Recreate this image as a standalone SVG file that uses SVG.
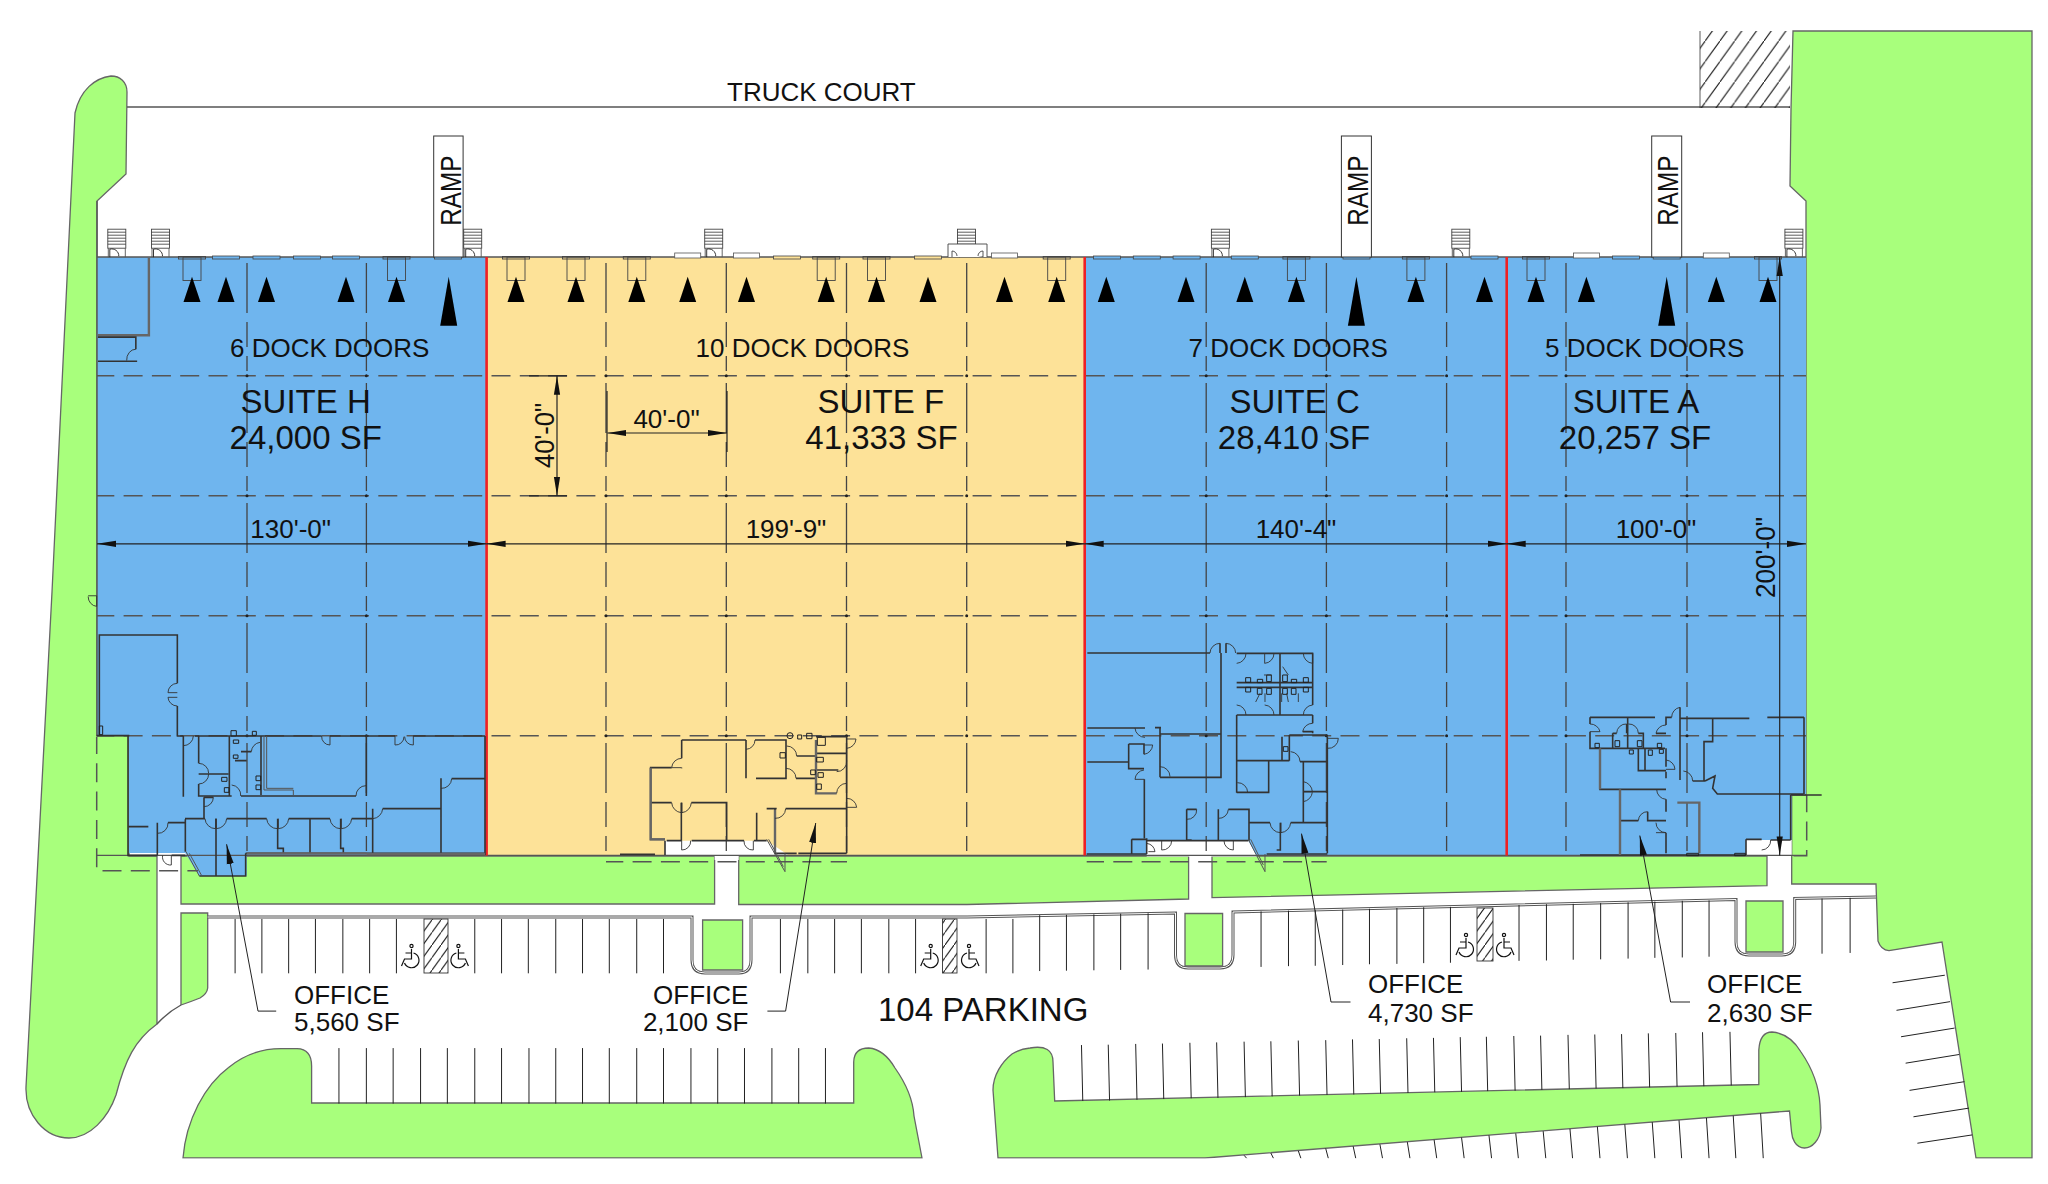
<svg xmlns="http://www.w3.org/2000/svg" xmlns:xlink="http://www.w3.org/1999/xlink" width="2048" height="1184" viewBox="0 0 2048 1184">
<style>
text{font-family:"Liberation Sans",Arial,sans-serif;fill:#111}
.t26{font-size:26px}.t33{font-size:33px}.m{text-anchor:middle}.e{text-anchor:end}
.g{fill:#a8ff7c;stroke:#666;stroke-width:1.3}
.b{fill:#6fb5ee}.y{fill:#fde298}
.gh{stroke:#555;stroke-width:1.5;stroke-dasharray:19 9.3;stroke-dashoffset:1.7;fill:none}
.gv{stroke:#444;stroke-width:1.3;stroke-dasharray:50 9 25 9 15 12;stroke-dashoffset:114;fill:none}
.gd{stroke:#222;stroke-width:3;stroke-linecap:round;stroke-dasharray:0 120;fill:none}
.sep{stroke:#ee2024;stroke-width:2.6;fill:none}
.dim{stroke:#222;stroke-width:1.2;fill:none}
.dimh{marker-start:url(#tick);marker-end:url(#tick)}
.lead{stroke:#222;stroke-width:1;fill:none;marker-start:url(#lead)}
.st path{fill:none;stroke:#222;stroke-width:1;vector-effect:non-scaling-stroke}
.w path{fill:none;stroke:#333;stroke-width:1.6;vector-effect:non-scaling-stroke}
.w path.a{stroke-width:.9}
.w path.h{stroke:#666;stroke-width:2.4}
.w path.f{stroke:#555;stroke-width:1}
.w rect,.w circle{fill:none;stroke:#222;stroke-width:1;vector-effect:non-scaling-stroke}
.curb{fill:none;stroke:#555;stroke-width:3}
.curbi{fill:none;stroke:#fff;stroke-width:1}
.edge{fill:none;stroke:#555;stroke-width:1.4}
.lv{fill:none;stroke:#444;stroke-width:.9}
.bar{fill:#6fb5ee;stroke:#444;stroke-width:.8}
.bary{fill:#fde298;stroke:#444;stroke-width:.8}
</style>
<defs>
<marker id="tick" markerUnits="userSpaceOnUse" markerWidth="20" markerHeight="8" refX="19" refY="4" orient="auto-start-reverse"><path d="M19,4 L0,.9 V7.1Z" fill="#111"/></marker>
<marker id="lead" markerUnits="userSpaceOnUse" markerWidth="20" markerHeight="8" refX="20" refY="4" orient="auto-start-reverse"><path d="M20,4 L0,.5 V7.5Z" fill="#111"/></marker>
<pattern id="hatchT" patternUnits="userSpaceOnUse" width="14.7" height="20.5"><path d="M0,20.5 L14.7,0" stroke="#111" stroke-width="1"/></pattern>
<pattern id="hatchP" patternUnits="userSpaceOnUse" width="9" height="12.6"><path d="M0,12.6 L9,0" stroke="#111" stroke-width="1"/></pattern>
<path id="ar" d="M0,0 L8.5,25.3 H-8.5Z" fill="#000"/>
<path id="arL" d="M0,0 L8.5,49 H-8.5Z" fill="#000"/>
<g id="stair"><rect x="0" y="0" width="18" height="19" fill="#fff" stroke="#444" stroke-width=".9"/><path d="M0,3H18M0,6H18M0,9H18M0,12H18M0,15H18" stroke="#333" stroke-width=".8"/><path d="M.5,19 V28 M17.5,19 V28" stroke="#555" stroke-width=".9"/><path d="M2,28 V20 A7,7 0 0 1 11,27" fill="none" stroke="#222" stroke-width=".9"/></g>
<g id="lev"><rect x="-9" y="257" width="18" height="23.5" class="lv"/><rect x="-13.5" y="256.5" width="27" height="2.5" class="lv"/></g>
<rect id="fl" x="-13.5" y="256" width="27" height="3" class="bar"/>
<rect id="fy" x="-13.5" y="256" width="27" height="3" class="bary"/>
<rect id="rs" x="-13" y="253" width="26" height="5" fill="#fff" stroke="#555" stroke-width=".8"/>
<g id="hc" fill="none" stroke="#111" stroke-width="1.2"><circle cx="-2" cy="-10" r="1.6"/><path d="M-2,-7 V3 H5 L8,10 M-2,-3 H4 M-4,-3 A7.5,7.5 0 1 0 5,7"/></g>
</defs>

<g id="site">
<path class="g" d="M127,92 C127,82 120,76 111,76 C95,78 80,90 75,113 L52,592 L26,1087 C25,1115 45,1138 69,1138 C90,1138 108,1118 116,1095 C125,1060 135,1040 157,1024 V856 H129 V735.5 H97 V201 L126,174Z"/>
<path class="g" d="M1793,31 H2032 V1158 H1976 L1942,942 L1889,950.7 Q1881,950 1878,941 L1876,884 H1791.7 V795 H1806 V201 L1790,186 L1791,109Z"/>
<path class="g" d="M181,856 H714.6 V904 H181Z"/>
<path class="g" d="M738.7,856 H1188.6 V899 L967,904.5 H738.7Z"/>
<path class="g" d="M1212,856 H1767 V885.6 L1212,897.7Z"/>
<path class="g" d="M181,913 H207.7 V988 Q207,994 200,998 Q190,1002 181,1005Z"/>
<path class="edge" d="M181,1005 Q168,1012 157,1024"/>
<path class="g" d="M183,1158 C186,1120 205,1085 228.6,1067.5 C245,1054 262,1048.6 281,1048.6 H297 Q311.6,1049 311.6,1066 V1103 H853.7 V1062 Q854,1048 868.7,1048 C880,1049 888,1056 895,1068 C907,1085 913,1100 914,1116 L922,1158Z"/>
<path class="g" d="M998,1158 L993,1090 C993,1075 1002,1062 1012,1054 Q1020,1049 1030,1048 Q1053,1044 1053,1062 L1054.7,1101 L1758.8,1084.5 V1050 Q1760,1032 1772,1032 C1785,1033 1795,1042 1801,1052 C1812,1068 1819,1085 1820,1105 L1821,1128 C1820,1140 1812,1148 1804.5,1148 C1795,1148 1792,1138 1791.5,1131.6 L1789.5,1111 L1205,1158Z"/>
<path class="g" d="M702.6,920 H742.6 V970 H702.6Z"/>
<path class="g" d="M1185,913.5 H1222.6 V966 H1185Z"/>
<path class="g" d="M1746,901 H1783 V952 H1746Z"/>
<path class="curb" d="M207.7,917 H692 V960 Q692,973 705,973 H739 Q751,973 751,960 V917 H967 L1175.5,913 V955 Q1175.5,968 1188,968 H1220 Q1233,968 1233,955 V912 L1736,899.5 V942 Q1736,955 1749,955 H1782 Q1794.7,955 1794.7,942 V898.4 L1876,897"/>
<path class="curbi" d="M207.7,917 H692 V960 Q692,973 705,973 H739 Q751,973 751,960 V917 H967 L1175.5,913 V955 Q1175.5,968 1188,968 H1220 Q1233,968 1233,955 V912 L1736,899.5 V942 Q1736,955 1749,955 H1782 Q1794.7,955 1794.7,942 V898.4 L1876,897"/>
<path class="edge" d="M127,107 H1790" stroke-width="1.2"/>
<rect x="1700" y="31" width="90" height="77" fill="url(#hatchT)"/>
<path d="M1700,31 V108" stroke="#333" stroke-width=".8"/>
<rect x="424" y="919" width="24" height="54" fill="url(#hatchP)" stroke="#333" stroke-width=".9"/>
<rect x="942.5" y="919" width="14.5" height="54" fill="url(#hatchP)" stroke="#333" stroke-width=".9"/>
<rect x="1477" y="908" width="16" height="53" fill="url(#hatchP)" stroke="#333" stroke-width=".9"/>
<use xlink:href="#hc" href="#hc" transform="translate(409.5,956) scale(-1,1)"/>
<use xlink:href="#hc" href="#hc" transform="translate(460.4,956)"/>
<use xlink:href="#hc" href="#hc" transform="translate(928.7,956) scale(-1,1)"/>
<use xlink:href="#hc" href="#hc" transform="translate(971,956)"/>
<use xlink:href="#hc" href="#hc" transform="translate(1464,945) scale(-1,1)"/>
<use xlink:href="#hc" href="#hc" transform="translate(1506,945)"/>
<g class="st" transform="translate(0,592) scale(.65306,.37755)">
<path d="M360,866V1010M401,866V1010M442,866V1010M483,866V1010M525,866V1010M566,866V1010M607,866V1010M727,866V1010M768,866V1010M809,866V1010M851,866V1010M892,866V1010M933,866V1010M975,866V1010M1016,866V1010M1195,866V1010M1237,866V1010M1278,866V1010M1319,866V1010M1361,866V1010M1402,866V1010M1510,866V1010M1551,866V1010"/>
<path d="M519,1208V1355M561,1208V1355M602,1208V1355M644,1208V1355M685,1208V1355M727,1208V1355M768,1208V1355M810,1208V1355M851,1208V1355M892,1208V1355M933,1208V1355M975,1208V1355M1016,1208V1355M1058,1208V1355M1099,1208V1355M1140,1208V1355M1182,1208V1355M1223,1208V1355M1264,1208V1355"/>
</g>
<g class="st" transform="translate(1024,592) scale(.65306,.37755)">
<path d="M24,856V1004M65,855V1003M107,854V1002M148,852V1001M190,851V1000"/>
<path d="M363,846V993M405,844V991M446,843V990M488,841V988M529,839V986M571,837V985M612,835V983M653,834V982M758,829V977M800,827V976M841,826V974M883,824V973M925,822V971M966,820V969M1008,818V968M1049,817V966M1222,812V958M1265,810V956"/>
<path d="M88,1200L90,1348M129,1199L131,1347M171,1197L173,1345M212,1196L214,1343M254,1194L256,1341M295,1193L297,1340M337,1191L339,1338M378,1190L380,1336M420,1188L422,1334M462,1187L464,1332M503,1185L505,1331M544,1184L546,1329M586,1182L588,1327M627,1181L629,1325M668,1179L670,1324M708,1178L710,1322M750,1176L752,1321M791,1175L793,1319M833,1173L835,1317M874,1172L876,1315M915,1171L917,1314M956,1169L958,1312M998,1168L1000,1310M1039,1166L1041,1309M1081,1165L1083,1307"/>
<path d="M1128,1381L1132,1500M1086,1387L1090,1500M1045,1393L1049,1500M1003,1399L1007,1500M962,1404L966,1500M920,1410L924,1500M878,1416L882,1500M836,1422L840,1500M795,1428L799,1500M753,1434L757,1500M712,1439L716,1500M670,1445L674,1500M628,1451L632,1500M587,1457L591,1500M545,1463L549,1500M504,1468L508,1500M462,1474L466,1500M420,1480L424,1500M378,1486L382,1500M337,1492L341,1500"/>
<path d="M1330,1035L1410,1015M1336,1108L1418,1085M1343,1178L1425,1155M1350,1248L1432,1225M1356,1320L1440,1297M1362,1390L1447,1367M1368,1460L1452,1438"/>
</g>
<rect x="0" y="1158.5" width="2048" height="26" fill="#fff"/>
</g>

<g id="suite-h">
<path class="b" d="M97,257 H486.6 V855.4 H246.7 V876 H199.3 L185.3,853 H129 V735.5 H97Z"/>
</g>
<g id="suite-f">
<rect class="y" x="486.6" y="257" width="598.1" height="598.4"/>
<path d="M665,840.7 H766.7 L789,855.4 H738.7 V860 H714.6 V855.4 H665Z" fill="#fff"/>
</g>
<g id="suite-c">
<rect class="b" x="1084.7" y="257" width="422" height="598.4"/>
<path d="M1146.7,840.7 H1248.3 L1257,856.5 H1146.7Z" fill="#fff"/>
</g>
<g id="suite-a">
<path class="b" d="M1506.7,257 H1806 V794 H1791.7 V840 H1746 V855.4 H1506.7Z"/>
<rect x="1746" y="840" width="45.7" height="16" fill="#fff"/>
</g>

<g id="grid">
<path class="gh" d="M97,375.8 H1806 M97,495.8 H1806 M97,615.8 H1806 M97,735.8 H1806"/>
<path class="gv" d="M247,257 V855 M366.4,257 V855 M606,257 V861 M726.3,257 V855 M846.5,257 V861 M966.7,257 V855 M1206.2,257 V855 M1326.4,257 V861 M1446.6,257 V855 M1566,257 V855 M1687,257 V855"/>
<path class="gd" d="M247,375.8 V736 M366.4,375.8 V736 M606,375.8 V736 M726.3,375.8 V736 M846.5,375.8 V736 M966.7,375.8 V736 M1206.2,375.8 V736 M1326.4,375.8 V736 M1446.6,375.8 V736 M1566,375.8 V736 M1687,375.8 V736"/>
<path class="gh" d="M606,861.7 H847 M1086.7,861.7 H1326.7"/>
<path class="gh" d="M96.7,736.7 V870.7 H198 M1806.7,795 V855.7 H1791.7" stroke-dasharray="16 8"/>
<path class="edge" d="M97,257 H1806 M97,855.4 H1806 M97,201 V736" stroke-width="1.6"/>
<path class="sep" d="M486.6,257 V855.4 M1084.7,257 V855.4 M1506.7,257 V855.4"/>
</g>

<g id="dock-fittings">
<use xlink:href="#stair" href="#stair" x="107.8" y="229.2"/><use xlink:href="#stair" href="#stair" x="151.5" y="229.2"/><use xlink:href="#stair" href="#stair" x="463.7" y="229.2"/><use xlink:href="#stair" href="#stair" x="704.7" y="229.2"/><use xlink:href="#stair" href="#stair" x="957.5" y="229.2"/><use xlink:href="#stair" href="#stair" x="1211.4" y="229.2"/><use xlink:href="#stair" href="#stair" x="1451.8" y="229.2"/><use xlink:href="#stair" href="#stair" x="1784.9" y="229.2"/>
<path d="M948,257 V244 H987 V257 M952,257 V251 A5,5 0 0 1 957,256 M983,257 V251 A5,5 0 0 0 978,256" fill="#fff" stroke="#444" stroke-width=".9"/>
<use href="#lev" x="192"/><use href="#lev" x="396.5"/><use href="#lev" x="516"/><use href="#lev" x="576"/><use href="#lev" x="636.8"/><use href="#lev" x="826.2"/><use href="#lev" x="876.5"/><use href="#lev" x="1056.7"/><use href="#lev" x="1296.4"/><use href="#lev" x="1415.9"/><use href="#lev" x="1536"/><use href="#lev" x="1768"/>
<use href="#fl" x="226"/><use href="#fl" x="266.5"/><use href="#fl" x="307"/><use href="#fl" x="346"/><use href="#fl" x="448"/><use href="#fy" x="787"/><use href="#fy" x="928"/><use href="#fl" x="1107"/><use href="#fl" x="1146.8"/><use href="#fl" x="1186.6"/><use href="#fl" x="1244.8"/><use href="#fl" x="1356.5"/><use href="#fl" x="1484.5"/><use href="#fl" x="1626"/><use href="#fl" x="1666.7"/>
<use href="#rs" x="687.7"/><use href="#rs" x="746.5"/><use href="#rs" x="1004.5"/><use href="#rs" x="1586.4"/><use href="#rs" x="1716.3"/>
<use href="#ar" x="192" y="276.7"/><use href="#ar" x="226" y="276.7"/><use href="#ar" x="266.5" y="276.7"/><use href="#ar" x="346" y="276.7"/><use href="#ar" x="396.5" y="276.7"/><use href="#arL" x="448.7" y="276.7"/>
<use href="#ar" x="516" y="276.7"/><use href="#ar" x="576" y="276.7"/><use href="#ar" x="636.8" y="276.7"/><use href="#ar" x="687.7" y="276.7"/><use href="#ar" x="746.5" y="276.7"/><use href="#ar" x="826.2" y="276.7"/><use href="#ar" x="876.5" y="276.7"/><use href="#ar" x="928" y="276.7"/><use href="#ar" x="1004.5" y="276.7"/>
<use href="#ar" x="1056.7" y="276.7"/><use href="#ar" x="1106.3" y="276.7"/><use href="#ar" x="1186" y="276.7"/><use href="#ar" x="1244.8" y="276.7"/><use href="#ar" x="1296.4" y="276.7"/><use href="#arL" x="1356.4" y="276.7"/><use href="#ar" x="1415.9" y="276.7"/><use href="#ar" x="1484.5" y="276.7"/>
<use href="#ar" x="1536" y="276.7"/><use href="#ar" x="1586.4" y="276.7"/><use href="#arL" x="1666.7" y="276.7"/><use href="#ar" x="1716.3" y="276.7"/><use href="#ar" x="1768" y="276.7"/>
</g>

<g id="ramps">
<g fill="#fff" stroke="#333" stroke-width="1"><rect x="433.7" y="136" width="29.4" height="121"/><rect x="1341.4" y="136" width="30" height="121"/><rect x="1651.7" y="136" width="30" height="121"/></g>
<text transform="translate(461,225.7) rotate(-90)" font-size="30" textLength="70" lengthAdjust="spacingAndGlyphs">RAMP</text>
<text transform="translate(1368,225.7) rotate(-90)" font-size="30" textLength="70" lengthAdjust="spacingAndGlyphs">RAMP</text>
<text transform="translate(1678,225.7) rotate(-90)" font-size="30" textLength="70" lengthAdjust="spacingAndGlyphs">RAMP</text>
</g>

<g id="office-h" class="w">
<g transform="scale(.65306,.37755)">
<path class="h" d="M228,683 V888 H150"/><path d="M150,893 H208 V925 M150,957 H210"/><path class="a" d="M208,925 A14,28 0 0 0 194,955"/>
</g>
<g transform="translate(80,620) scale(.33333)">
<path d="M58,346 V45 H292 V190 M292,258 V348 M50,347 H148 M290,348 H310 M345,348 H725 M750,348 H945 M1000,348 H1215 M144,347 V706 H232 M275,706 H316"/>
<path d="M310,348 V530 M356,348 V430 M356,462 H445 M356,492 V528 H455 M448,348 V528 M543,348 V525 M483,528 H828 M483,395 H514 M465,422 H500 M859,348 V528"/>
<path class="f" d="M552,348 V510 H640 V525 M560,348 V505 H640"/>
<path d="M372,532 H400 M372,532 V596 M315,596 H375 M440,596 H560 M626,596 H750 M815,596 H878 M408,596 V766 M593,596 V685 H610 V703 M690,596 V700 M782,596 V685 H790 V703 M878,566 V698 M908,566 H1083 M1083,475 V698 M1115,476 H1215 M1215,348 V705 M497,700 H1215 M497,700 V768 H358 M316,598 V695 M145,620 H205 M232,608 V706 M264,608 H316"/>
<path class="f" d="M318,695 L358,768 M328,700 L364,765"/>
<path class="a" d="M292,190 A28,28 0 0 0 264,218 H292 M292,258 A28,28 0 0 1 264,232 H292 M310,377 A30,30 0 0 0 340,348 M725,348 A25,25 0 0 0 750,375 V348 M945,348 V375 A25,25 0 0 0 972,350 M1000,348 V375 A25,25 0 0 1 974,350 M356,430 A30,30 0 0 1 386,460 M356,492 A30,30 0 0 0 386,462 M455,495 A30,30 0 0 1 482,528 M514,395 A30,30 0 0 1 540,367 M828,528 A30,30 0 0 1 858,497 M400,532 A28,28 0 0 1 372,560 M375,596 A32,32 0 0 0 407,626 V596 M440,596 A32,32 0 0 1 409,626 V596 M560,596 A32,32 0 0 0 593,626 M626,596 A32,32 0 0 1 595,626 V596 M750,596 A32,32 0 0 0 782,626 M815,596 A32,32 0 0 1 784,626 V596 M878,596 A32,32 0 0 0 908,566 M1083,505 A30,30 0 0 0 1115,476 M232,640 A30,30 0 0 0 264,608 M248,706 A24,24 0 0 0 274,735 V706"/>
<rect x="453" y="332" width="16" height="16"/><rect x="517" y="334" width="12" height="12"/><rect x="528" y="468" width="14" height="14"/><rect x="528" y="495" width="14" height="14"/><rect x="433" y="503" width="14" height="14"/><rect x="460" y="360" width="16" height="10"/><rect x="460" y="405" width="14" height="10"/><rect x="425" y="472" width="16" height="12"/><rect x="58" y="318" width="10" height="26"/>
<path class="h" d="M500,700 H860 M860,702 H1215"/>
</g>
<g transform="scale(.65306,.37755) translate(0,1568)">
<path class="a" d="M135,10 H148 V38 M135,12 A14,26 0 0 0 148,38"/>
</g>
</g>

<g id="office-f" class="w" transform="translate(620,720) scale(.33333)">
<path d="M185,60 H378 M185,60 V115 M155,143 H92 V358 H135 M185,143 V145 M92,248 H155 M214,248 H320 V362 M184,248 V362 M135,362 V405 M140,362 H185 M215,362 H372 M402,362 H440 M378,60 V175 M405,60 H498 V175 H408 M530,108 H585 M528,175 H585 M590,150 H655 M680,50 V400 M590,100 H680 M588,50 H680 M410,278 V362 M440,266 H470 M465,266 V400 H530 M497,266 H680 M535,400 H680 M0,403 H105"/>
<path class="h" d="M588,60 V220 H650 M92,143 V358 H135 M465,270 V398"/>
<path class="f" d="M440,358 L495,455 V400 M446,358 L490,440"/>
<path class="a" d="M185,115 A30,30 0 0 0 155,143 H185 M155,248 A32,32 0 0 0 184,278 V248 M214,248 A32,32 0 0 1 186,278 V248 M185,362 V390 A26,26 0 0 0 212,362 M372,362 A26,26 0 0 0 400,390 V362 M378,88 A28,28 0 0 0 405,60 M500,78 A30,30 0 0 1 530,108 M498,145 A30,30 0 0 1 528,175 M650,155 A30,30 0 0 0 680,122 M650,220 A30,30 0 0 1 680,190 M680,57 H708 A30,30 0 0 1 680,85 M680,235 A30,30 0 0 1 710,262 H680 M465,295 A30,30 0 0 0 497,266"/>
<circle cx="510" cy="47" r="9"/><rect x="533" y="45" width="12" height="12"/><rect x="560" y="40" width="16" height="16"/><rect x="592" y="52" width="24" height="24"/><rect x="480" y="98" width="16" height="16"/><rect x="572" y="150" width="14" height="14"/><rect x="590" y="192" width="14" height="16"/><rect x="594" y="158" width="16" height="14"/><rect x="590" y="112" width="20" height="14"/>
</g>

<g id="office-c" class="w" transform="translate(1080,630) scale(.33333)">
<path d="M22,69 H390 M420,40 V69 M438,40 V69 M423,69 V442 H240 M240,292 V442 M225,293 H243 M242,312 H423 M22,294 H195 M22,396 H146 M146,342 H192 V373 M146,342 V416 H192 M193,448 V625 M155,628 V672 M155,628 H200 M200,632 H505 M200,625 V672 M320,538 H350 M320,538 V630 H335 M415,538 V632 M445,538 H507 V632 M507,578 H570 M632,578 H742 M601,578 V660 H590 M670,395 V578 M672,485 H742 M742,320 V670 M470,70 H700 M600,70 V255 M698,70 V225 M470,158 H698 M470,172 H698 M470,255 H698 M698,255 V280 M668,305 H698 V310 M470,255 V488 M470,392 H628 M566,392 V487 H470 M628,315 V392 M606,320 V392 M628,315 H742 M660,395 H740 M560,672 H742 M20,672 H200"/>
<path class="f" d="M505,628 L555,725 V672 M512,628 L550,705"/>
<path class="a" d="M390,69 A30,30 0 0 1 420,40 M467,69 A30,30 0 0 0 438,40 M270,440 A30,30 0 0 0 240,410 M165,294 A30,30 0 0 0 195,322 M192,345 H218 A30,30 0 0 1 192,373 M192,420 A30,30 0 0 0 165,448 H193 M200,640 A30,30 0 0 1 225,665 H205 M245,632 V660 A28,28 0 0 0 275,632 M432,632 A28,28 0 0 0 460,660 V632 M350,538 A28,28 0 0 1 320,568 M415,565 A28,28 0 0 0 445,538 M570,578 A32,32 0 0 0 601,608 M632,578 A32,32 0 0 1 603,608 V578 M670,455 A32,32 0 0 1 697,485 H670 M670,515 A32,32 0 0 0 697,487 M470,100 A30,30 0 0 0 498,70 M582,70 A30,30 0 0 1 554,100 V70 M670,70 A30,30 0 0 0 698,100 V70 M470,225 A30,30 0 0 1 498,255 M554,225 A30,30 0 0 1 582,255 M670,255 A30,30 0 0 1 698,225 M698,280 A30,30 0 0 0 668,305 M472,458 A30,30 0 0 1 503,488 M632,365 A30,30 0 0 1 660,395 M742,325 H775 A30,30 0 0 1 742,355"/>
<rect x="497" y="143" width="15" height="14"/><rect x="497" y="172" width="15" height="14"/><rect x="560" y="135" width="14" height="20"/><rect x="532" y="148" width="16" height="10"/><rect x="532" y="175" width="14" height="18"/><rect x="560" y="175" width="14" height="18"/><rect x="608" y="135" width="14" height="20"/><rect x="634" y="148" width="16" height="10"/><rect x="608" y="175" width="14" height="18"/><rect x="634" y="175" width="14" height="18"/><rect x="670" y="143" width="15" height="14"/><rect x="670" y="172" width="15" height="14"/><rect x="610" y="350" width="14" height="14"/>
<path class="a" d="M527,216 L540,190 M555,190 V216 M605,216 V190 M625,216 L620,190 M655,216 V190 M552,135 L575,135 M608,110 L625,135"/>
</g>

<g id="office-a" class="w" transform="translate(1580,700) scale(.33333)">
<path d="M30,52 H225 M30,52 V72 M30,95 V145 H255 M98,100 V145 M143,52 V145 M98,100 H110 M140,72 V100 M175,100 H190 V145 M228,100 H258 M258,75 V52 H275 M300,22 V240 M300,55 H508 M258,145 V200 M175,145 V212 H258 M195,145 V212 M258,215 V235 M60,145 V268 H258 M120,268 V465 M230,268 H258 M258,298 V335 M120,362 H175 M203,335 V362 H258 M258,398 V460 M338,243 H375 M398,55 V125 H372 V243 M375,243 L405,228 L398,265 L412,282 H670 M562,52 H672 M672,52 V282 M632,285 V420 M498,418 V465 M498,418 H545 M572,420 H632 M0,465 H498 M632,285 H725"/>
<path class="h" d="M292,308 H358 V460 M60,145 V268 M120,268 V465"/>
<path class="a" d="M30,72 A30,30 0 0 1 60,95 H30 M110,100 A28,28 0 0 1 140,72 M145,72 A28,28 0 0 1 175,100 M228,100 A30,30 0 0 1 258,75 M275,52 A30,30 0 0 1 300,22 M258,180 A30,30 0 0 1 285,208 H258 M230,268 A30,30 0 0 0 258,298 M175,362 A28,28 0 0 1 203,335 M228,368 A30,30 0 0 0 258,398 H228 M310,213 A30,30 0 0 1 338,243 M545,450 A28,28 0 0 0 572,420"/>
<rect x="45" y="130" width="13" height="13"/><rect x="105" y="122" width="14" height="18"/><rect x="172" y="122" width="14" height="18"/><rect x="232" y="130" width="13" height="13"/><rect x="148" y="150" width="12" height="12"/><rect x="205" y="150" width="12" height="16"/><rect x="238" y="148" width="12" height="12"/>
<rect x="320" y="460" width="36" height="7"/><rect x="464" y="460" width="32" height="7"/>
</g>

<g id="dimensions">
<path class="dim dimh" d="M97,543.8 H486.6"/>
<path class="dim dimh" d="M486.6,543.8 H1084.7"/>
<path class="dim dimh" d="M1084.7,543.8 H1506.7"/>
<path class="dim dimh" d="M1506.7,543.8 H1806"/>
<path class="dim dimh" d="M607.4,433 H727"/>
<path class="dim dimh" d="M557,375.8 V495.8"/>
<path class="dim" d="M529,375.8 H567 M529,495.8 H567 M607,391 V452 M727,391 V452"/>
<path class="dim dimh" d="M1779.7,257 V855.4" stroke="#333"/>
</g>

<g id="labels">
<text class="t26" x="727" y="100.8">TRUCK COURT</text>
<text class="t26" x="230" y="357.4">6 DOCK DOORS</text>
<text class="t26" x="695.6" y="357.4">10 DOCK DOORS</text>
<text class="t26" x="1188.6" y="357.4">7 DOCK DOORS</text>
<text class="t26" x="1545" y="357.4">5 DOCK DOORS</text>
<text class="t33 m" x="305.7" y="413">SUITE H</text><text class="t33 m" x="305.7" y="449">24,000 SF</text>
<text class="t33 m" x="880.8" y="413">SUITE F</text><text class="t33 m" x="881.5" y="449">41,333 SF</text>
<text class="t33 m" x="1294.7" y="413">SUITE C</text><text class="t33 m" x="1294" y="449">28,410 SF</text>
<text class="t33 m" x="1636" y="413">SUITE A</text><text class="t33 m" x="1635" y="449">20,257 SF</text>
<text class="t26 m" x="290.7" y="538">130'-0"</text>
<text class="t26 m" x="786" y="538">199'-9"</text>
<text class="t26 m" x="1296" y="538">140'-4"</text>
<text class="t26 m" x="1656" y="538">100'-0"</text>
<text class="t26 m" x="666.5" y="427.8">40'-0"</text>
<text transform="translate(553.5,468) rotate(-90)" font-size="28" textLength="65" lengthAdjust="spacingAndGlyphs">40'-0"</text>
<text transform="translate(1775,598) rotate(-90)" font-size="28" textLength="81" lengthAdjust="spacingAndGlyphs">200'-0"</text>
<text class="t33" x="878" y="1020.5">104 PARKING</text>
<text class="t26" x="294" y="1003.5">OFFICE</text><text class="t26" x="294" y="1031">5,560 SF</text>
<text class="t26 e" x="748.4" y="1003.5">OFFICE</text><text class="t26 e" x="748.4" y="1031">2,100 SF</text>
<text class="t26" x="1368" y="993.4">OFFICE</text><text class="t26" x="1368" y="1022.4">4,730 SF</text>
<text class="t26" x="1707" y="993.4">OFFICE</text><text class="t26" x="1707" y="1022.4">2,630 SF</text>
</g>

<g id="leaders">
<path class="lead" d="M226.6,844.2 L258,1011.1 H276.2"/>
<path class="lead" d="M815.7,823 L785.6,1011.1 H767.4"/>
<path class="lead" d="M1301.5,833.6 L1331,1002 H1350.5"/>
<path class="lead" d="M1639.8,835.5 L1670.6,1002 H1690"/>
</g>
</svg>
